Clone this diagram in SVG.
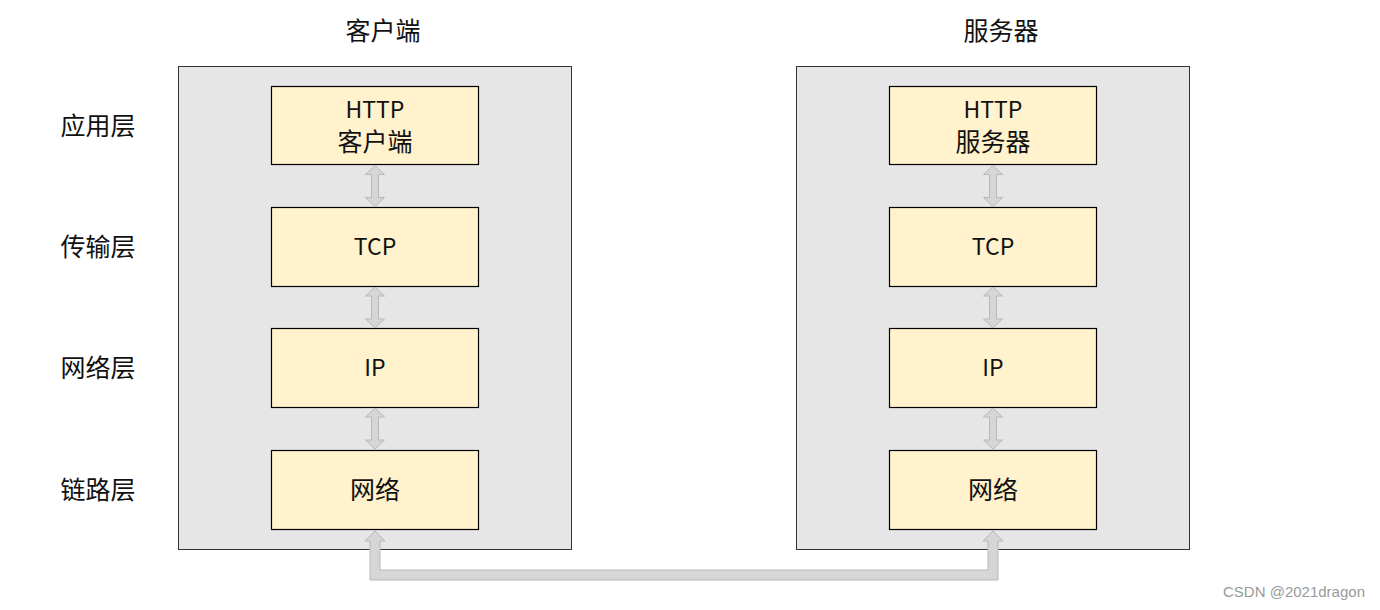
<svg xmlns="http://www.w3.org/2000/svg" width="1380" height="610" viewBox="0 0 1380 610">
<style>
.panel{fill:#e6e6e6;stroke:#333;stroke-width:1}
.box{fill:#fff2cc;stroke:#000;stroke-width:1.2}
.t{font-family:"Noto Sans CJK SC","Liberation Sans",sans-serif;fill:#111;text-anchor:middle}
.title{font-size:25px}
.lbl{font-size:25px}
.bt{font-size:23px}
.bc{font-size:25px}
.arr{fill:#d6d6d6;stroke:#b8b8b8;stroke-width:1}
.wm{font-family:"Liberation Sans",sans-serif;font-size:15px;fill:#999;text-anchor:end}
</style>
<defs>
<path id="dbl" d="M0,0 L9.5,9 L3.5,9 L3.5,32 L9.5,32 L0,41 L-9.5,32 L-3.5,32 L-3.5,9 L-9.5,9 Z"/>
</defs>
<g id="title-client"><text class="t title" x="383" y="40">客户端</text></g>
<g id="title-server"><text class="t title" x="1001" y="40">服务器</text></g>
<g id="layer-labels">
<text class="t lbl" x="98" y="135">应用层</text>
<text class="t lbl" x="98" y="256">传输层</text>
<text class="t lbl" x="98" y="377">网络层</text>
<text class="t lbl" x="98" y="499">链路层</text>
</g>
<g id="client-panel"><rect class="panel" x="178.5" y="66.5" width="393" height="483"/></g>
<g id="server-panel"><rect class="panel" x="796.5" y="66.5" width="393" height="483"/></g>
<g id="client-http"><rect class="box" x="271.5" y="86.5" width="207" height="78"/><text class="t bt" x="375" y="118">HTTP</text><text class="t bc" x="375" y="151">客户端</text></g>
<g id="client-tcp"><rect class="box" x="271.5" y="207.5" width="207" height="79"/><text class="t bt" x="375" y="255">TCP</text></g>
<g id="client-ip"><rect class="box" x="271.5" y="328.5" width="207" height="79"/><text class="t bt" x="375" y="376">IP</text></g>
<g id="client-net"><rect class="box" x="271.5" y="450.5" width="207" height="79"/><text class="t bc" x="375" y="499">网络</text></g>
<g id="server-http"><rect class="box" x="889.5" y="86.5" width="207" height="78"/><text class="t bt" x="993" y="118">HTTP</text><text class="t bc" x="993" y="151">服务器</text></g>
<g id="server-tcp"><rect class="box" x="889.5" y="207.5" width="207" height="79"/><text class="t bt" x="993" y="255">TCP</text></g>
<g id="server-ip"><rect class="box" x="889.5" y="328.5" width="207" height="79"/><text class="t bt" x="993" y="376">IP</text></g>
<g id="server-net"><rect class="box" x="889.5" y="450.5" width="207" height="79"/><text class="t bc" x="993" y="499">网络</text></g>
<g id="connectors">
<use href="#dbl" class="arr" x="375" y="165.5"/>
<use href="#dbl" class="arr" x="375" y="287"/>
<use href="#dbl" class="arr" x="375" y="408"/>
<use href="#dbl" class="arr" x="993" y="165.5"/>
<use href="#dbl" class="arr" x="993" y="287"/>
<use href="#dbl" class="arr" x="993" y="408"/>
<path class="arr" d="M375,531 L385,541 L380,541 L380,570 L988,570 L988,541 L983,541 L993,531 L1003,541 L998,541 L998,580 L370,580 L370,541 L365,541 Z"/>
</g>
<text class="wm" x="1365" y="597">CSDN @2021dragon</text>
</svg>
